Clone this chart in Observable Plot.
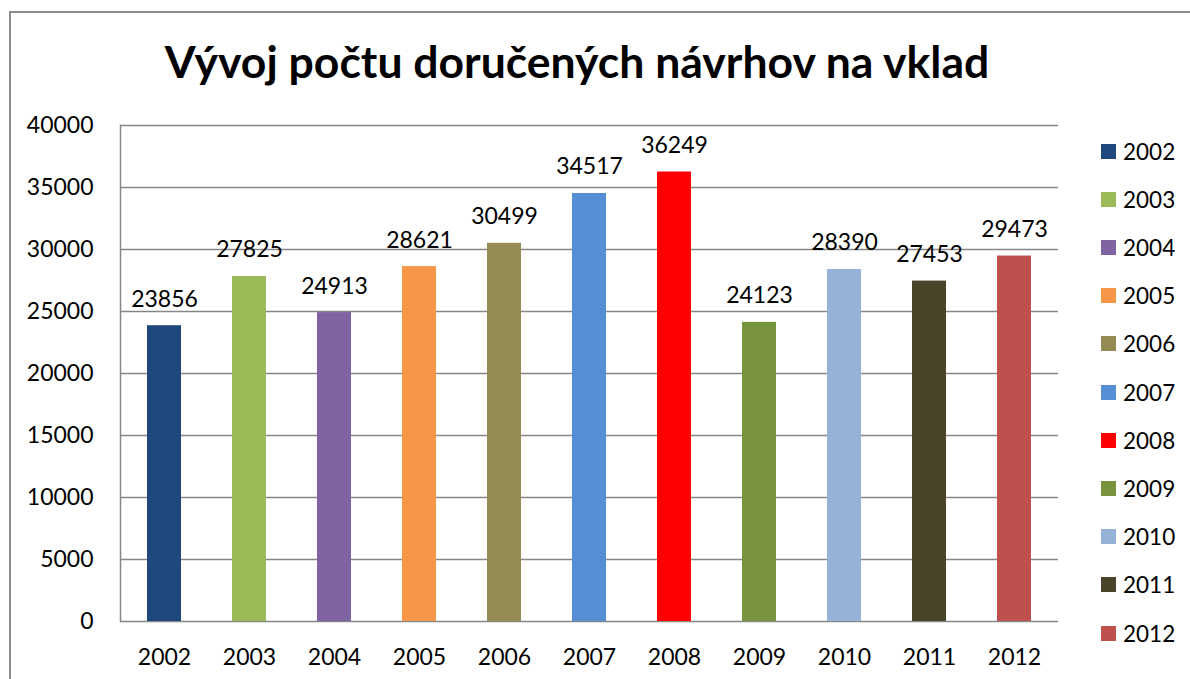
<!DOCTYPE html>
<html>
<head>
<meta charset="utf-8">
<script src="https://cdn.jsdelivr.net/npm/d3@7"></script>
<script src="https://cdn.jsdelivr.net/npm/@observablehq/plot@0.6"></script>
<style>
  html, body { margin: 0; padding: 0; background: #fff; overflow: hidden; }
  #wrap { position: relative; width: 1190px; height: 679px; font-family: Lato, "Open Sans", sans-serif; }
  #border { position: absolute; left: 9px; top: 11px; width: 1300px; height: 800px; border: 2px solid #8c8c8c; box-sizing: border-box; }
  #title { position: absolute; left: 0; width: 1154px; top: 34px; text-align: center; font-weight: 700; font-size: 44.5px; color: #000; }
  #chart { position: absolute; left: 0; top: 0; }
  #legend { position: absolute; left: 1101px; top: 0; }
  .item { position: absolute; left: 0; display: flex; align-items: center; white-space: nowrap; font-size: 22.5px; color: #000; }
  .sw { width: 15px; height: 15px; margin-right: 7px; }
</style>
</head>
<body>
<div id="wrap">
  <div id="border"></div>
  <div id="chart"></div>
  <div id="title"></div>
  <div id="legend"></div>
</div>
<script>
const titleText = "Vývoj počtu doručených návrhov na vklad";
const years = ["2002","2003","2004","2005","2006","2007","2008","2009","2010","2011","2012"];
const counts = [23856, 27825, 24913, 28621, 30499, 34517, 36249, 24123, 28390, 27453, 29473];
const colors = ["#1F497D","#9BBB59","#8064A2","#F79646","#948A54","#558ED5","#FF0000","#77933C","#95B3D7","#4A452A","#C0504D"];
const yTicks = [0,5000,10000,15000,20000,25000,30000,35000,40000];

const data = years.map((y, i) => ({year: y, value: counts[i]}));

document.getElementById("title").textContent = titleText;

const plot = Plot.plot({
  width: 1190,
  height: 679,
  marginLeft: 120,
  marginRight: 132,
  marginTop: 125,
  marginBottom: 58,
  style: { fontFamily: "Lato, 'Open Sans', sans-serif", background: "transparent", color: "#000" },
  x: { type: "band", domain: years, paddingInner: 0.6, paddingOuter: 0.3, label: null },
  y: { domain: [0, 40000], label: null },
  color: { type: "ordinal", domain: years, range: colors },
  marks: [
    Plot.gridY(yTicks, { stroke: "#868686", strokeOpacity: 1, strokeWidth: 1.5 }),
    Plot.frame({ anchor: "left", stroke: "#868686", strokeWidth: 1.5 }),
    Plot.barY(data, { x: "year", y: "value", fill: "year" }),
    Plot.text(data, { x: "year", y: "value", text: d => String(d.value), lineAnchor: "bottom", dy: -19, fontSize: 23, fill: "#000" }),
    Plot.axisY(yTicks, { tickSize: 0, tickPadding: 27, fontSize: 23, tickFormat: d => String(d), label: null }),
    Plot.axisX({ tickSize: 0, tickPadding: 27, fontSize: 23, label: null })
  ]
});
document.getElementById("chart").appendChild(plot);

const legend = document.getElementById("legend");
years.forEach((y, i) => {
  const it = document.createElement("div");
  it.className = "item";
  it.style.top = (151 + i * 48.2 - 13) + "px";
  it.style.height = "26px";
  const sw = document.createElement("div");
  sw.className = "sw";
  sw.style.background = colors[i];
  const t = document.createElement("span");
  t.textContent = y;
  it.appendChild(sw); it.appendChild(t);
  legend.appendChild(it);
});
</script>
</body>
</html>
